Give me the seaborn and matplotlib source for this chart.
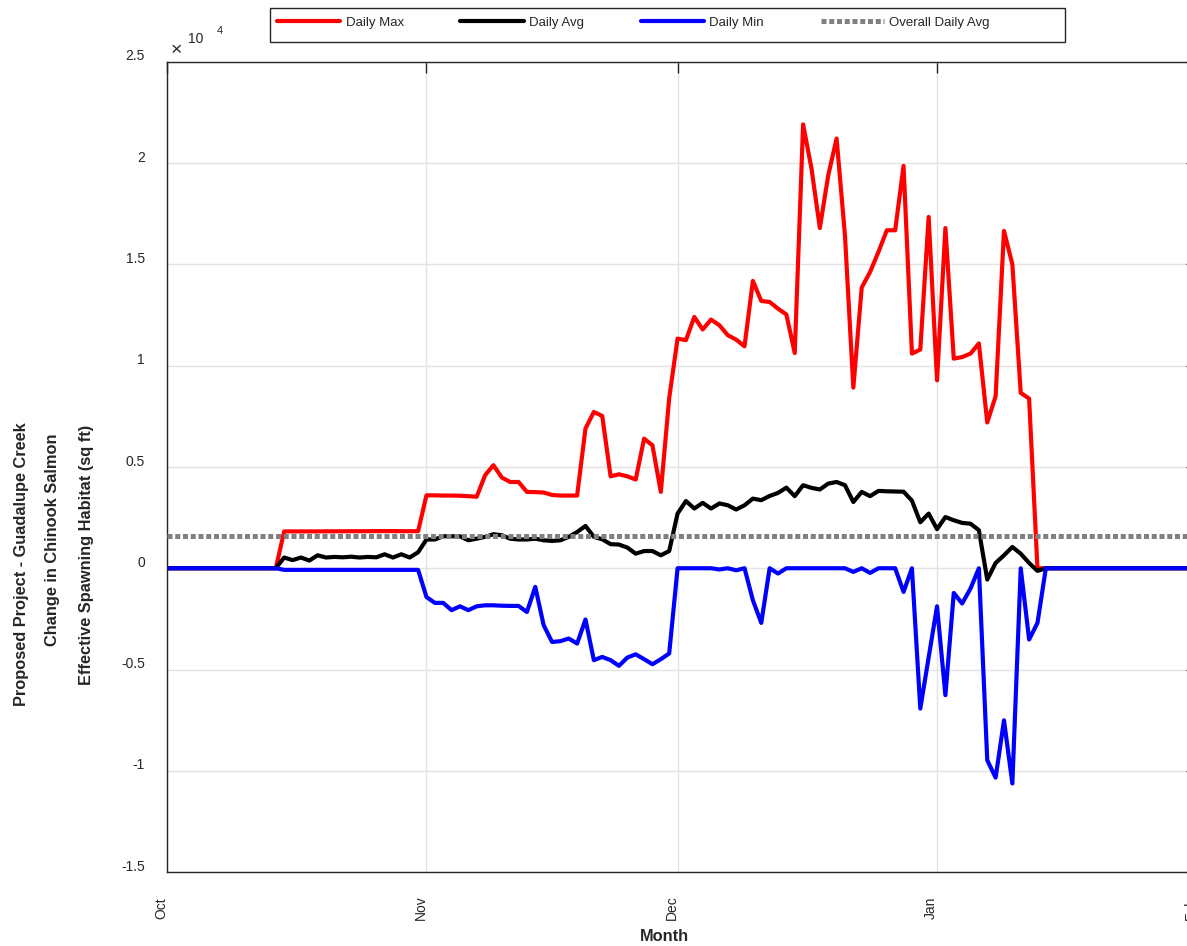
import numpy as np
import pandas as pd
import matplotlib
matplotlib.use("Agg")
import matplotlib.pyplot as plt
import seaborn as sns
from matplotlib.lines import Line2D
from matplotlib.patches import Rectangle
from matplotlib.transforms import ScaledTranslation

# ---------------- data ----------------
START_DATE = "2018-10-01"
END_DATE = "2019-02-01"
MONTH_STARTS = ["2018-10-01", "2018-11-01", "2018-12-01", "2019-01-01", "2019-02-01"]
MONTH_LABELS = ["Oct", "Nov", "Dec", "Jan", "Feb"]
YTICKS = [-15000, -10000, -5000, 0, 5000, 10000, 15000, 20000, 25000]
YTICK_LABELS = ["-1.5", "-1", "-0.5", "0", "0.5", "1", "1.5", "2", "2.5"]

daily_max = (
    [0] * 14
    + [1820, 1820, 1820, 1820, 1820, 1825, 1825, 1825, 1830, 1830, 1830, 1835, 1835, 1835, 1830, 1830, 1830]
    + [3600, 3600, 3590, 3590, 3580, 3560, 3530]
    + [4590, 5090, 4480, 4260, 4260, 3770, 3760, 3740, 3620, 3590, 3590, 3590]
    + [6900, 7720, 7520, 4540, 4640, 4540, 4380, 6400, 6070, 3770, 8400]
    + [11340, 11260, 12410, 11790, 12280, 12000, 11510, 11290, 10960, 14190, 13200, 13150, 12820, 12530, 10630]
    + [21920, 19740, 16800, 19400, 21220, 16440, 8920, 13860, 14630, 15620, 16690, 16690, 19870, 10600, 10800, 17350, 9280]
    + [16800, 10350, 10430, 10600, 11100, 7200, 8490, 16660, 15010, 8660, 8380]
    + [0] * 20
)

daily_avg = (
    [0] * 14
    + [530, 400, 530, 380, 640, 530, 560, 540, 570, 530, 560, 540, 690, 530, 690, 530, 790]
    + [1420, 1420, 1580, 1580, 1580, 1380, 1460, 1550, 1680, 1630,
       1460, 1420, 1420, 1460, 1380, 1350, 1380, 1550, 1790, 2090,
       1550, 1430, 1190, 1170, 1020, 720, 850, 850, 640, 850]
    + [2700, 3320, 2950, 3230, 2950, 3200, 3110, 2900, 3110, 3440,
       3360, 3570, 3720, 3980, 3560, 4100, 3970, 3890, 4180, 4260,
       4100, 3270, 3770, 3560, 3820, 3800, 3790, 3780, 3340, 2270,
       2700, 1930]
    + [2530, 2370, 2240, 2200, 1880, -560, 260, 640, 1050, 720, 260, -130]
    + [0] * 19
)

daily_min = (
    [0] * 14
    + [-80] * 17
    + [-1420, -1710, -1710, -2070, -1880, -2070, -1880, -1830, -1830, -1850,
       -1860, -1860, -2160, -920, -2810, -3640, -3600, -3470, -3720, -2530,
       -4540, -4380, -4540, -4820, -4410, -4250, -4490, -4740, -4490, -4210]
    + [0, 0, 0, 0, 0, -60, 0, -100, 0, -1580, -2700, 0, -260,
       0, 0, 0, 0, 0, 0, 0, 0, -180, 0, -230, 0, 0, 0, -1170, 0,
       -6930, -4400, -1880]
    + [-6270, -1220, -1740, -1000, 0, -9480, -10340, -7510, -10630, 0, -3520, -2700]
    + [0] * 19
)

overall_daily_avg = 1600

SERIES = ["Daily Max", "Daily Avg", "Daily Min"]
COLORS = {"Daily Max": "#ff0000", "Daily Avg": "#000000", "Daily Min": "#0000ff"}
OVERALL_LABEL = "Overall Daily Avg"

dates = pd.date_range(START_DATE, periods=len(daily_max), freq="D")
df = pd.concat([
    pd.DataFrame({"date": dates, "value": daily_max, "series": "Daily Max"}),
    pd.DataFrame({"date": dates, "value": daily_avg, "series": "Daily Avg"}),
    pd.DataFrame({"date": dates, "value": daily_min, "series": "Daily Min"}),
], ignore_index=True)

# ---------------- style ----------------
sns.set_theme(style="white")
plt.rcParams["font.family"] = ["Liberation Sans", "DejaVu Sans"]

W, H = 1187, 946
fig = plt.figure(figsize=(W / 100, H / 100), dpi=100)
ax = fig.add_axes([167 / W, 1 - 872 / H, (1196.5 - 167) / W, (872 - 62) / H])

sns.lineplot(data=df, x="date", y="value", hue="series", hue_order=SERIES,
             palette=COLORS, linewidth=3.0, ax=ax, legend=False)
DOT = (0, (1.0, 0.55))
ax.axhline(overall_daily_avg, color="#808080", linewidth=3.6,
           linestyle=DOT, dash_capstyle="butt", zorder=5)

ax.set_xlim(pd.Timestamp(START_DATE), pd.Timestamp(END_DATE))
ax.set_ylim(YTICKS[0], YTICKS[-1])
ax.set_xticks(pd.to_datetime(MONTH_STARTS))
ax.set_xticklabels(MONTH_LABELS)
ax.set_yticks(YTICKS)
ax.set_yticklabels(YTICK_LABELS)
ax.set_xlabel("")
ax.set_ylabel("")

ax.grid(True, color="#e3e3e3", linewidth=1.0)
ax.set_axisbelow(True)
for sp in ax.spines.values():
    sp.set_visible(True)
    sp.set_color("#262626")
    sp.set_linewidth(1.0)

ax.tick_params(axis="both", direction="in", length=8, width=1, color="#262626",
               top=True, right=True, labelsize=10, labelcolor="#262626")
ax.tick_params(axis="y", pad=16)
ax.tick_params(axis="x", pad=26)
xoff = ScaledTranslation(-6 / 100, 0, fig.dpi_scale_trans)
for lab in ax.get_xticklabels():
    lab.set_rotation(90)
    lab.set_va("center")
    lab.set_ha("center")
    lab.set_transform(lab.get_transform() + xoff)
yoff = ScaledTranslation(0, 7 / 100, fig.dpi_scale_trans)
for lab in ax.get_yticklabels():
    lab.set_transform(lab.get_transform() + yoff)

# multiplier
fig.text(171 / W, 1 - 51 / H, "×", fontsize=14, color="#262626", va="center", ha="left")
fig.text(188 / W, 1 - 39 / H, "10", fontsize=10, color="#262626", va="center", ha="left")
fig.text(217 / W, 1 - 31 / H, "4", fontsize=8, color="#262626", va="center", ha="left")

# y label (three lines)
ylab_lines = ["Proposed Project - Guadalupe Creek", "Change in Chinook Salmon",
              "Effective Spawning Habitat (sq ft)"]
ylab_x = [22, 53, 87]
ylab_y = [564, 540, 555]
for t, xx, yy in zip(ylab_lines, ylab_x, ylab_y):
    fig.text(xx / W, 1 - yy / H, t, rotation=90, fontsize=11.8, fontweight="bold",
             color="#262626", ha="center", va="center")

fig.text(664 / W, 1 - 936 / H, "Month", fontsize=11.8, fontweight="bold",
         color="#262626", ha="center", va="center")

# legend
handles = [Line2D([], [], color=COLORS[s], linewidth=3.0) for s in SERIES]
handles.append(Line2D([], [], color="#808080", linewidth=3.6, linestyle=DOT,
                      dash_capstyle="butt"))
labels = SERIES + [OVERALL_LABEL]
leg = fig.legend(handles, labels, loc="center left", ncol=4,
                 bbox_to_anchor=(277 / W, 1 - 23 / H),
                 fontsize=9.5, handlelength=4.8, handletextpad=0.4, columnspacing=4.3,
                 borderpad=0.0, borderaxespad=0.0, frameon=False)
fig.patches.append(Rectangle((270 / W, 1 - 42 / H), 795 / W, 34 / H,
                             transform=fig.transFigure, fill=True, facecolor="white",
                             edgecolor="#262626", linewidth=1.0, zorder=0))

fig.savefig("out.png", dpi=100)
